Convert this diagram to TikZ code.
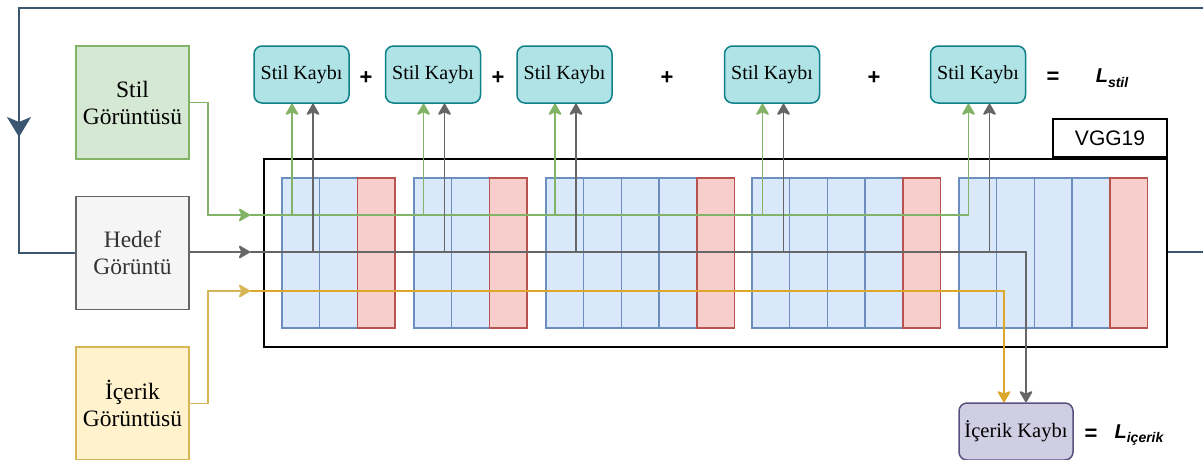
\documentclass[tikz,border=0pt]{standalone}
\usepackage{fontspec}
\setmainfont{Liberation Serif}
\newfontfamily\arialfont{Liberation Sans}
\usetikzlibrary{arrows.meta}

\definecolor{stilfill}{HTML}{D5E8D4}
\definecolor{stildraw}{HTML}{82B366}
\definecolor{hedeffill}{HTML}{F5F5F5}
\definecolor{hedefdraw}{HTML}{666666}
\definecolor{icfill}{HTML}{FFF2CC}
\definecolor{icdraw}{HTML}{D6B656}
\definecolor{icline}{HTML}{DDA72A}
\definecolor{cellbluefill}{HTML}{DAE8FC}
\definecolor{cellbluedraw}{HTML}{6C8EBF}
\definecolor{cellredfill}{HTML}{F8CECC}
\definecolor{cellreddraw}{HTML}{B85450}
\definecolor{lossfill}{HTML}{B0E3E6}
\definecolor{lossdraw}{HTML}{0E8088}
\definecolor{cfill}{HTML}{D0CEE2}
\definecolor{cdraw}{HTML}{56517E}
\definecolor{navy}{HTML}{3A5670}
\definecolor{textgrey}{HTML}{333333}

\tikzset{
  inbox/.style={draw, line width=1.6pt, minimum width=113pt, minimum height=113pt,
    inner sep=0pt, align=center, font=\fontsize{23.5}{27}\selectfont},
  stilloss/.style={draw=lossdraw, fill=lossfill, line width=1.5pt, rounded corners=8pt,
    minimum width=95pt, minimum height=57pt, inner sep=0pt,
    font=\fontsize{20}{24}\selectfont},
  contentloss/.style={draw=cdraw, fill=cfill, line width=1.5pt, rounded corners=8pt,
    minimum width=114pt, minimum height=57pt, inner sep=0pt,
    font=\fontsize{20.5}{24}\selectfont},
  cellblue/.style={draw=cellbluedraw, fill=cellbluefill, line width=1.4pt},
  cellred/.style={draw=cellreddraw, fill=cellredfill, line width=1.4pt},
  headed/.style={-{Stealth[length=13pt,width=15pt,inset=3.5pt,round]}},
  greenline/.style={draw=stildraw, line width=1.8pt},
  greyline/.style={draw=hedefdraw, line width=1.8pt},
  yellowline/.style={draw=icdraw, line width=1.8pt},
  opsign/.style={font=\arialfont\bfseries\fontsize{22}{24}\selectfont},
  lossname/.style={font=\arialfont\bfseries\itshape\fontsize{20}{24}\selectfont, inner sep=0pt}
}

\begin{document}
\begin{tikzpicture}[x=1pt,y=-1pt]
\useasboundingbox (0,0) rectangle (1203,459);

% input images
\node[inbox, draw=stildraw, fill=stilfill] (stil) at (132.5,102.5) {Stil\\Görüntüsü};
\node[inbox, draw=hedefdraw, fill=hedeffill, text=textgrey] (hedef) at (132.5,253) {Hedef\\Görüntü};
\node[inbox, draw=icdraw, fill=icfill] (icerik) at (132.5,403.5) {İçerik\\Görüntüsü};

% style loss terms
\node[stilloss] (l1) at (301.5,74.5) {Stil Kaybı};
\node[stilloss] (l2) at (433,74.5) {Stil Kaybı};
\node[stilloss] (l3) at (564.5,74.5) {Stil Kaybı};
\node[stilloss] (l4) at (772,74.5) {Stil Kaybı};
\node[stilloss] (l5) at (978,74.5) {Stil Kaybı};

\node[opsign] (p1) at (366,78) {+};
\node[opsign] (p2) at (498,78) {+};
\node[opsign] (p3) at (667,78) {+};
\node[opsign] (p4) at (874,78) {+};
\node[opsign] (eq1) at (1053,78) {=};
\node[lossname] (lstil) at (1112,78) {L\raisebox{-0.45ex}{\fontsize{14}{16}\selectfont stil}};

% content loss
\node[contentloss] (lc) at (1016,431.5) {İçerik Kaybı};
\node[opsign] (eq2) at (1091,435) {=};
\node[lossname] (licerik) at (1139,435) {L\raisebox{-0.45ex}{\fontsize{14}{16}\selectfont içerik}};

% VGG19 layers
\foreach \sx/\nb in {282/2, 414/2, 546/4, 752/4, 959/4} {
  \foreach \k in {1,...,\nb}
    \filldraw[cellblue] ({\sx+(\k-1)*37.7},178) rectangle ++(37.7,150);
  \filldraw[cellred] ({\sx+\nb*37.7},178) rectangle ++(37.7,150);
}

% VGG19 frame and label
\node[draw, line width=1.8pt, minimum width=903pt, minimum height=188pt, inner sep=0pt] (vgg) at (715.5,253) {};
\node[draw, line width=1.8pt, minimum width=114pt, minimum height=38pt, inner sep=0pt,
  anchor=south east, font=\arialfont\fontsize{21}{24}\selectfont] (vgglabel) at (vgg.north east) {VGG19};

% entry points into the network
\coordinate (gin) at (250,215);
\coordinate (hin) at (250,252);
\coordinate (yin) at (250,291);

% feedback loop of the target image
\coordinate (loopR) at (1220,8);
\coordinate (loopL) at (19,8);
\draw[navy, line width=2pt] (vgg.east |- hin) -- (loopR |- hin) -- (loopR) -- (loopL) |- (hedef.west);
\draw[navy, line width=2pt, -{Stealth[length=20pt,width=24pt,inset=5pt]}] (loopL) -- (19,137);

% style image path
\draw[greenline, headed] (stil.east) -- ++(18,0) |- (gin);
\draw[greenline] (gin) -- ([xshift=-9pt]l5.south |- gin);
\foreach \i in {1,...,5}
  \draw[greenline, headed] ([xshift=-9.5pt]l\i.south |- gin) -- ([xshift=-9.5pt]l\i.south);

% target image path
\draw[greyline, headed] (hedef.east |- hin) -- (hin);
\foreach \i in {1,...,5}
  \draw[greyline, headed] ([xshift=11.5pt]l\i.south |- hin) -- ([xshift=11.5pt]l\i.south);
\draw[greyline, headed] (hin) -| ([xshift=10pt]lc.north);

% content image path
\draw[yellowline, headed] (icerik.east) -- ++(18,0) |- (yin);
\draw[yellowline, draw=icline, headed] (yin) -| ([xshift=-12pt]lc.north);

\end{tikzpicture}
\end{document}
